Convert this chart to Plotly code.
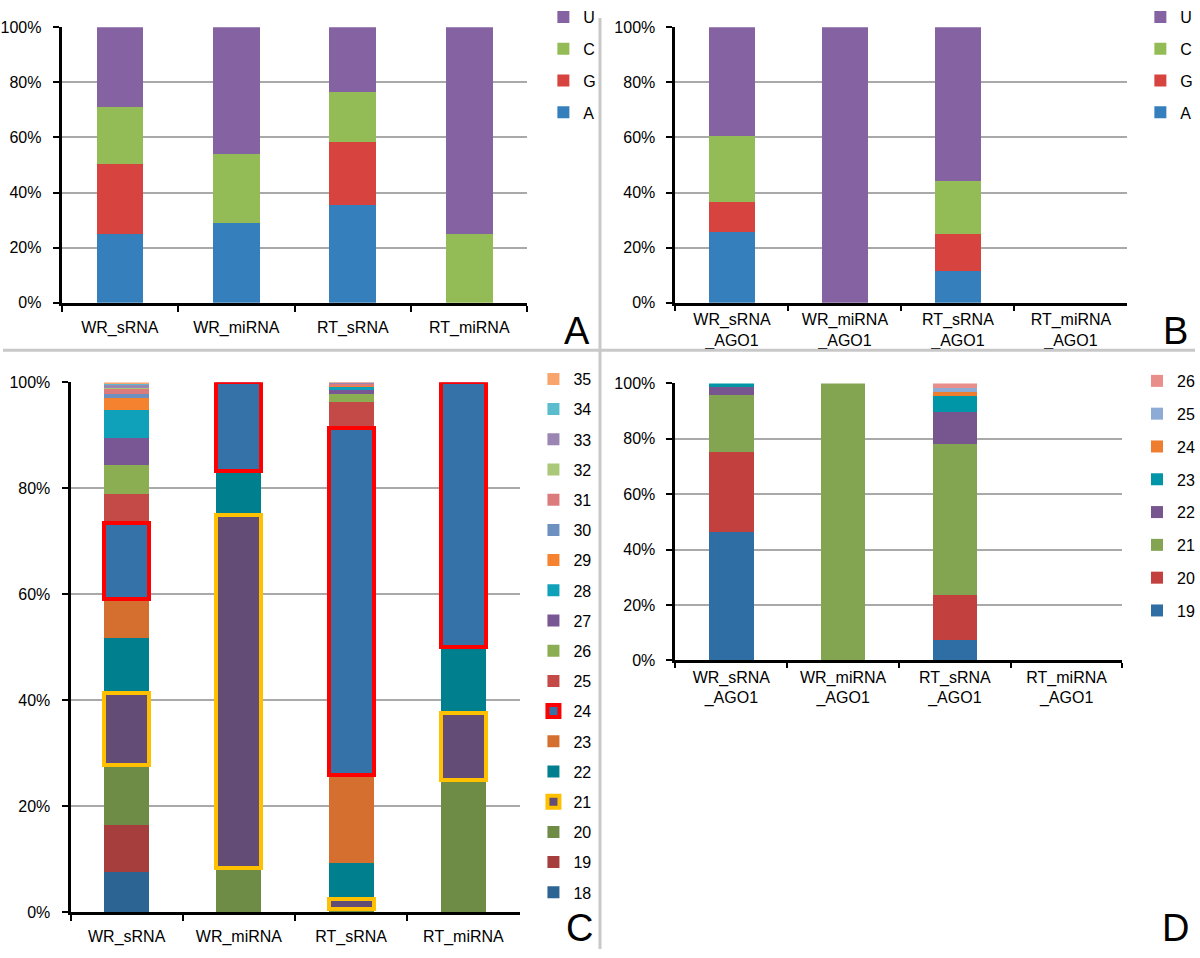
import numpy as np
import plotly.graph_objects as go

# ---------------- data ----------------
cats_top = ["WR_sRNA", "WR_miRNA", "RT_sRNA", "RT_miRNA"]
cats_ago = ["WR_sRNA<br>_AGO1", "WR_miRNA<br>_AGO1", "RT_sRNA<br>_AGO1", "RT_miRNA<br>_AGO1"]

# Panel A / B : first-nucleotide composition (%), order A, G, C, U
nucs = ["A", "G", "C", "U"]
a_wr_srna = [25.0, 25.5, 20.7, 28.8]
a_wr_mirna = [29.0, 0.0, 25.0, 46.0]
a_rt_srna = [35.3, 22.9, 18.2, 23.6]
a_rt_mirna = [0.0, 0.0, 25.0, 75.0]

b_wr_srna = [25.8, 10.8, 23.8, 39.6]
b_wr_mirna = [0.0, 0.0, 0.0, 100.0]
b_rt_srna = [11.7, 13.1, 19.4, 55.8]
b_rt_mirna = [0.0, 0.0, 0.0, 0.0]

# Panel C : length distribution 18..35 nt (%)
lengths_c = ["18", "19", "20", "21", "22", "23", "24", "25", "26",
             "27", "28", "29", "30", "31", "32", "33", "34", "35"]
c_wr_srna = [7.5, 9.0, 11.2, 13.6, 10.4, 7.4, 14.4, 5.4, 5.5,
             5.2, 5.2, 2.3, 0.8, 0.9, 0.2, 0.5, 0.2, 0.3]
c_wr_mirna = [0.0, 0.0, 8.33, 66.67, 8.33, 0.0, 16.67, 0.0, 0.0,
              0.0, 0.0, 0.0, 0.0, 0.0, 0.0, 0.0, 0.0, 0.0]
c_rt_srna = [0.0, 0.0, 0.5, 2.0, 6.8, 16.5, 65.6, 4.9, 1.6,
             0.7, 0.5, 0.2, 0.1, 0.3, 0.1, 0.1, 0.0, 0.1]
c_rt_mirna = [0.0, 0.0, 25.0, 12.5, 12.5, 0.0, 50.0, 0.0, 0.0,
              0.0, 0.0, 0.0, 0.0, 0.0, 0.0, 0.0, 0.0, 0.0]

# Panel D : length distribution 19..26 nt (%) in AGO1
lengths_d = ["19", "20", "21", "22", "23", "24", "25", "26"]
d_wr_srna = [46.5, 28.7, 20.7, 2.9, 1.2, 0.0, 0.0, 0.0]
d_wr_mirna = [0.0, 0.0, 100.0, 0.0, 0.0, 0.0, 0.0, 0.0]
d_rt_srna = [7.5, 16.0, 54.6, 11.5, 5.7, 1.5, 1.4, 1.8]
d_rt_mirna = [0.0, 0.0, 0.0, 0.0, 0.0, 0.0, 0.0, 0.0]

highlight_c = {"24": "#ff0000", "21": "#ffc000"}

# ---------------- styles ----------------
nuc_colors = {"A": "#357fbd", "G": "#d7433f", "C": "#94bc56", "U": "#8562a1"}
c_colors = ["#2c6593", "#a53e3c", "#6f8c46", "#634c76", "#00808e", "#d46f2f",
            "#3572a8", "#c44a48", "#8bae52", "#785794", "#0fa0ba", "#f5822e",
            "#6c90bf", "#dc7b7b", "#abc879", "#9b85b2", "#5bbccd", "#f8a46c"]
d_colors = ["#2e6ea4", "#c2403d", "#83a552", "#77568f", "#0096a8", "#ef7d2e",
            "#8eabd6", "#e88e8b"]

FONT = "Liberation Sans, Arial, sans-serif"
W, H = 1200, 958


def px_x(v):
    return v / W


def px_y(v):
    return (H - v) / H


fig = go.Figure()


def nz(v):
    return [x if x > 0 else None for x in v]


# Panel A
for i, n in enumerate(nucs):
    fig.add_trace(go.Bar(
        x=cats_top, y=nz([a_wr_srna[i], a_wr_mirna[i], a_rt_srna[i], a_rt_mirna[i]]),
        name=n, marker=dict(color=nuc_colors[n], line=dict(width=0)),
        xaxis="x", yaxis="y", legend="legend", legendgroup="a" + n,
        legendrank=100 - i))
# Panel B
for i, n in enumerate(nucs):
    fig.add_trace(go.Bar(
        x=cats_ago, y=nz([b_wr_srna[i], b_wr_mirna[i], b_rt_srna[i], b_rt_mirna[i]]),
        name=n, marker=dict(color=nuc_colors[n], line=dict(width=0)),
        xaxis="x2", yaxis="y2", legend="legend2", legendgroup="b" + n,
        legendrank=100 - i))
# Panel C
for i, L in enumerate(lengths_c):
    line = dict(width=0)
    if L in highlight_c:
        line = dict(width=4, color=highlight_c[L])
    fig.add_trace(go.Bar(
        x=cats_top, y=nz([c_wr_srna[i], c_wr_mirna[i], c_rt_srna[i], c_rt_mirna[i]]),
        name=L, marker=dict(color=c_colors[i], line=line),
        xaxis="x3", yaxis="y3", legend="legend3", legendgroup="c" + L,
        legendrank=100 - i))
# outline overlays for highlighted lengths (drawn on top so the full box is visible)
c_matrix = np.array([c_wr_srna, c_wr_mirna, c_rt_srna, c_rt_mirna])
c_cum = np.cumsum(c_matrix, axis=1) - c_matrix
for L, col in highlight_c.items():
    k = lengths_c.index(L)
    vals = c_matrix[:, k]
    fig.add_trace(go.Bar(
        x=cats_top, y=[v if v > 0 else None for v in vals], base=list(c_cum[:, k]),
        marker=dict(color="rgba(0,0,0,0)", line=dict(width=4, color=col)),
        xaxis="x3", yaxis="y3", showlegend=False, hoverinfo="skip"))
# Panel D
for i, L in enumerate(lengths_d):
    fig.add_trace(go.Bar(
        x=cats_ago, y=nz([d_wr_srna[i], d_wr_mirna[i], d_rt_srna[i], d_rt_mirna[i]]),
        name=L, marker=dict(color=d_colors[i], line=dict(width=0)),
        xaxis="x4", yaxis="y4", legend="legend4", legendgroup="d" + L,
        legendrank=100 - i))

# ---------------- axes ----------------
tickfont = dict(family=FONT, size=16, color="black")


def xax(domain, anchor, cats, standoff, ticklen=6):
    return dict(domain=domain, anchor=anchor, type="category", categoryorder="array",
                categoryarray=cats, showline=True, linecolor="black", linewidth=3,
                ticks="outside", tickson="boundaries", ticklen=ticklen, tickwidth=2,
                tickcolor="black", tickfont=tickfont, showgrid=False, zeroline=False,
                ticklabelstandoff=standoff, fixedrange=True)


def yax(domain, anchor):
    return dict(domain=domain, anchor=anchor, range=[0, 100], dtick=20, ticksuffix="%",
                showline=True, linecolor="black", linewidth=3, ticks="outside",
                ticklen=6, tickwidth=2, tickcolor="black", tickfont=tickfont,
                showgrid=True, gridcolor="#a9a9a9", gridwidth=2, zeroline=False,
                ticklabelstandoff=8, fixedrange=True)


top_y = [px_y(293), px_y(9.5)]
fig.update_layout(
    xaxis=xax([px_x(59), px_x(528)], "y", cats_top, 8),
    yaxis=yax(top_y, "x"),
    xaxis2=xax([px_x(677), px_x(1132)], "y2", cats_ago, 0, 5),
    yaxis2=yax(top_y, "x2"),
    xaxis3=xax([px_x(68), px_x(520)], "y3", cats_top, 8),
    yaxis3=yax([px_y(920), px_y(375)], "x3"),
    xaxis4=xax([px_x(677), px_x(1127)], "y4", cats_ago, 0, 5),
    yaxis4=yax([px_y(661), px_y(376)], "x4"),
)

legfont = dict(family=FONT, size=16, color="black")


def leg(x, y, gap):
    return dict(x=x, y=y, xanchor="left", yanchor="top", font=legfont,
                traceorder="grouped", tracegroupgap=gap,
                bgcolor="rgba(0,0,0,0)", itemwidth=30, itemclick=False)


fig.update_layout(
    legend=leg(px_x(544), px_y(-19), 8),
    legend2=leg(px_x(1145), px_y(-19), 8),
    legend3=leg(px_x(534), px_y(354), 6.4),
    legend4=leg(px_x(1142), px_y(356), 9),
)

# panel letters
letters = [("A", 578, 322), ("B", 1180, 322), ("C", 580, 936), ("D", 1180, 936)]
for t, x, y in letters:
    fig.add_annotation(text=t, x=px_x(x), y=px_y(y), xref="paper", yref="paper",
                       showarrow=False, xanchor="center", yanchor="middle",
                       font=dict(family=FONT, size=38, color="black"))

# panel dividers
fig.add_shape(type="line", xref="paper", yref="paper", x0=px_x(601), x1=px_x(601),
              y0=0, y1=1, line=dict(color="#c8c8c8", width=3))
fig.add_shape(type="line", xref="paper", yref="paper", x0=0, x1=1,
              y0=px_y(342), y1=px_y(342), line=dict(color="#c8c8c8", width=3))

fig.update_layout(
    width=W, height=H, autosize=False,
    margin=dict(l=0, r=0, t=0, b=0),
    barmode="stack", bargap=0.6,
    paper_bgcolor="white", plot_bgcolor="white",
    font=dict(family=FONT, size=16, color="black"),
)

fig.write_html("out.html", config={"displayModeBar": False},
               post_script="document.body.style.margin='0';document.body.style.overflow='hidden';")
